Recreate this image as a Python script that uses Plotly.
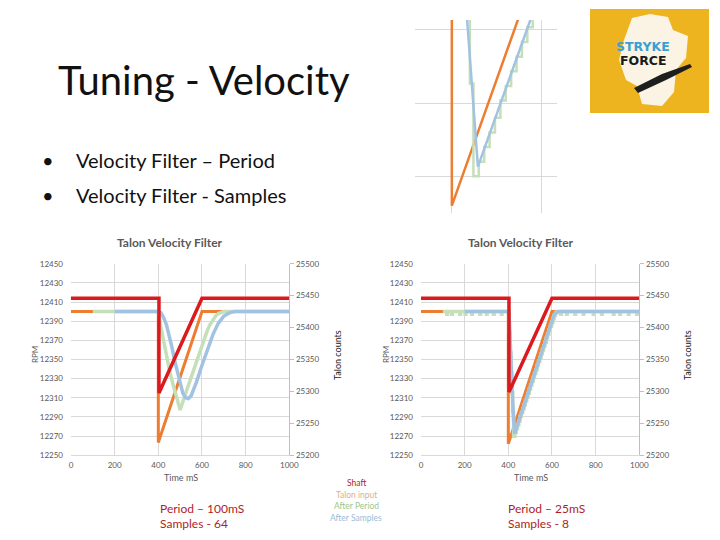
import plotly.graph_objects as go

# ---- data ----
# left chart: Period 100 ms, Samples 64
shaft_t_a = [0, 403, 403, 600, 1000]
shaft_rpm_a = [12414, 12414, 12315, 12414, 12414]

input_t_a = [0, 400, 400, 600, 1000]
input_cnt_a = [25425, 25425, 25220, 25425, 25425]

period_t_a = [100, 400, 412.5, 425, 437.5, 450, 462.5, 475, 487.5, 500, 525, 550, 575,
              600, 625, 637.5, 650, 662.5, 675, 687.5, 700, 1000]
period_cnt_a = [25425, 25425, 25400, 25377, 25355, 25335, 25317, 25300, 25285, 25271, 25297,
                25322, 25348, 25374, 25396, 25405, 25412, 25418, 25422, 25424, 25425, 25425]

samples_t_a = [200, 400, 412.5, 425, 437.5, 450, 462.5, 475, 487.5, 500, 512.5, 525, 537.5,
               550, 575, 600, 625, 650, 675, 700, 725, 750, 1000]
samples_cnt_a = [25425, 25425, 25423, 25415, 25404, 25388, 25369, 25348, 25329, 25311, 25297,
                 25290, 25289, 25293, 25315, 25341, 25366, 25389, 25407, 25418, 25423, 25425, 25425]

# right chart: Period 25 ms, Samples 8
shaft_t_b = [0, 403, 403, 600, 1000]
shaft_rpm_b = [12414, 12414, 12316, 12414, 12414]

input_t_b = [0, 400, 400, 600, 1000]
input_cnt_b = [25425, 25425, 25218, 25425, 25425]

# stepped (hv) signal with the small dropouts on the flat parts
period_t_b = [100, 118, 121, 140, 143, 178, 181, 202, 205, 232, 235, 270, 273, 300, 303,
              332, 335, 368, 371, 404, 408, 412, 416, 420, 424, 430, 436, 442, 448, 454,
              460, 466, 472, 478, 484, 490, 496, 502, 508, 514, 520, 526, 532, 538, 544,
              550, 556, 562, 568, 574, 580, 586, 592, 598, 604, 610, 616, 622, 640, 643,
              667, 670, 705, 708, 743, 746, 789, 792, 827, 830, 881, 884, 911, 914, 950,
              953, 988, 991, 1000]
period_cnt_b = [25425, 25421, 25425, 25421, 25425, 25421, 25425, 25421, 25425, 25421, 25425,
                25421, 25425, 25421, 25425, 25421, 25425, 25421, 25425, 25392, 25360, 25329,
                25298, 25268, 25230, 25236, 25242, 25248, 25254, 25261, 25267, 25273, 25279,
                25285, 25291, 25297, 25304, 25310, 25316, 25322, 25328, 25334, 25341, 25347,
                25353, 25359, 25365, 25371, 25377, 25384, 25390, 25396, 25402, 25408, 25414,
                25419, 25423, 25425, 25421, 25425, 25421, 25425, 25421, 25425, 25421, 25425,
                25421, 25425, 25421, 25425, 25421, 25425, 25421, 25425, 25421, 25425, 25421,
                25425, 25425]

samples_t_b = [200, 400, 405, 410, 414, 417, 423, 429, 500, 560, 600, 610, 620, 630, 1000]
samples_cnt_b = [25425, 25425, 25410, 25372, 25330, 25294, 25262, 25234, 25307, 25369,
                 25410, 25420, 25424, 25425, 25425]

x_ticks = [0, 200, 400, 600, 800, 1000]
series_names = ["Shaft", "Talon input", "After Period", "After Samples"]

RED = "#DA1A1E"
ORANGE = "#ED7D31"
GREEN = "#C5DFB8"
BLUE = "#A2C2E2"
GRID = "#D9D9D9"
TXT = "#595959"
FONT = "Lato"

# the page body has an 8px margin, so screen pixels are shifted back by 8
OFF = 8


def X(p):
    return (p - OFF) / 720


def Y(p):
    return 1 - (p - OFF) / 540


fig = go.Figure()

# left chart
fig.add_trace(go.Scatter(x=input_t_a, y=input_cnt_a, xaxis="x", yaxis="y",
                         line=dict(color=ORANGE, width=3)))
fig.add_trace(go.Scatter(x=period_t_a, y=period_cnt_a, xaxis="x", yaxis="y",
                         line=dict(color=GREEN, width=3.5)))
fig.add_trace(go.Scatter(x=samples_t_a, y=samples_cnt_a, xaxis="x", yaxis="y",
                         line=dict(color=BLUE, width=3.5)))
fig.add_trace(go.Scatter(x=shaft_t_a, y=shaft_rpm_a, xaxis="x", yaxis="y2",
                         line=dict(color=RED, width=3.5)))

# right chart
fig.add_trace(go.Scatter(x=input_t_b, y=input_cnt_b, xaxis="x2", yaxis="y3",
                         line=dict(color=ORANGE, width=3)))
fig.add_trace(go.Scatter(x=period_t_b, y=period_cnt_b, xaxis="x2", yaxis="y3",
                         line=dict(color=GREEN, width=3.5, shape="hv")))
fig.add_trace(go.Scatter(x=samples_t_b, y=samples_cnt_b, xaxis="x2", yaxis="y3",
                         line=dict(color=BLUE, width=3.5)))
fig.add_trace(go.Scatter(x=shaft_t_b, y=shaft_rpm_b, xaxis="x2", yaxis="y4",
                         line=dict(color=RED, width=3.5)))

# zoomed inset (top) of the right chart dip
fig.add_trace(go.Scatter(x=input_t_b, y=input_cnt_b, xaxis="x3", yaxis="y5",
                         line=dict(color=ORANGE, width=2.5)))
fig.add_trace(go.Scatter(x=period_t_b, y=period_cnt_b, xaxis="x3", yaxis="y5",
                         line=dict(color=GREEN, width=2.5, shape="hv")))
fig.add_trace(go.Scatter(x=samples_t_b, y=samples_cnt_b, xaxis="x3", yaxis="y5",
                         line=dict(color=BLUE, width=2.5)))

fig.update_traces(mode="lines", showlegend=False, hoverinfo="skip")

tickfont = dict(family=FONT, size=8, color=TXT)


def xa(x0, x1):
    return dict(domain=[X(x0), X(x1)], range=[0, 1000], tickvals=x_ticks, showgrid=True,
                gridcolor=GRID, zeroline=False, showline=True, linecolor=GRID,
                tickfont=tickfont, ticks="", automargin=False, ticklabelstandoff=2)


def cnt_axis(anchor):
    return dict(domain=[Y(455.3), Y(263.7)], range=[25200, 25500], dtick=50, tick0=25200,
                side="right", anchor=anchor, showgrid=False, zeroline=False, showline=True,
                linecolor="#BFBFBF", ticks="outside", ticklen=4, tickcolor="#BFBFBF",
                tickfont=tickfont, tickformat="d", automargin=False)


def rpm_axis(over, anchor):
    return dict(range=[12250, 12450], dtick=20, tick0=12250, overlaying=over, side="left",
                anchor=anchor, showgrid=True, gridcolor=GRID, zeroline=False, showline=False,
                ticks="", tickfont=tickfont, tickformat="d", ticklabelstandoff=7,
                automargin=False)


fig.update_layout(
    width=720, height=540, margin=dict(l=0, r=0, t=0, b=0, pad=0, autoexpand=False),
    paper_bgcolor="white", plot_bgcolor="white", showlegend=False,
    xaxis=dict(xa(71, 289.3), anchor="y"),
    yaxis=cnt_axis("x"),
    yaxis2=rpm_axis("y", "x"),
    xaxis2=dict(xa(421, 639.3), anchor="y3"),
    yaxis3=cnt_axis("x2"),
    yaxis4=rpm_axis("y3", "x2"),
    xaxis3=dict(domain=[X(415), X(557)], range=[359, 517], tickvals=[400, 500],
                showgrid=True, gridcolor=GRID, showticklabels=False, zeroline=False,
                anchor="y5", automargin=False),
    yaxis5=dict(domain=[Y(213), Y(20)], range=[25215, 25294], tickvals=[25230, 25260, 25290],
                showgrid=True, gridcolor=GRID, showticklabels=False, zeroline=False,
                anchor="x3", automargin=False),
)

ann = []


def text(x, y, s, size, color, xanchor="center", angle=0, bold=False, family=FONT):
    if bold:
        s = "<b>" + s + "</b>"
    ann.append(dict(x=X(x), y=Y(y), xref="paper", yref="paper", text=s, showarrow=False,
                    xanchor=xanchor, yanchor="middle", textangle=angle, borderpad=0,
                    font=dict(family=family, size=size, color=color)))


# slide text
text(57, 80, "Tuning - Velocity", 40, "#111111", xanchor="left")
text(41, 160, "•", 20, "#111111", xanchor="left")
text(75, 160, "Velocity Filter – Period", 20, "#111111", xanchor="left")
text(41, 195, "•", 20, "#111111", xanchor="left")
text(75, 195, "Velocity Filter - Samples", 20, "#111111", xanchor="left")

# chart titles and axis titles
for cx, lx, rx in [(170, 35, 337), (521, 386, 687)]:
    text(cx, 242, "Talon Velocity Filter", 12, TXT, bold=True)
    text(lx, 355, "RPM", 8, TXT, angle=-90)
    text(rx, 355, "Talon counts", 9, "#222222", angle=-90)
text(163, 477, "Time mS", 9, TXT, xanchor="left")
text(513, 477, "Time mS", 9, TXT, xanchor="left")

# custom legend
legend_cols = ["#B01E1E", "#DDB08A", "#9CC68A", "#9BBBD4"]
for i, (nm, col) in enumerate(zip(series_names, legend_cols)):
    text(356, 483 + i * 11.7, nm, 8.5, col)

# settings notes
text(159, 508, "Period – 100mS", 12, "#B01E1E", xanchor="left")
text(159, 523, "Samples - 64", 12, "#B01E1E", xanchor="left")
text(507, 508, "Period – 25mS", 12, "#B01E1E", xanchor="left")
text(507, 523, "Samples - 8", 12, "#B01E1E", xanchor="left")


def path(pts):
    return "M " + " L ".join(f"{X(a)},{Y(b)}" for a, b in pts) + " Z"


shapes = [
    dict(type="rect", xref="paper", yref="paper", x0=X(590), x1=X(709), y0=Y(113), y1=Y(9),
         fillcolor="#EEB420", line=dict(width=0), layer="below"),
    dict(type="path", xref="paper", yref="paper", layer="below",
         path=path([(632, 18), (650, 14), (668, 17), (673, 30), (688, 36), (686, 58), (676, 70),
                    (674, 92), (662, 106), (642, 104), (637, 86), (626, 80), (619, 60),
                    (624, 40)]),
         fillcolor="#FBF4E4", line=dict(width=0)),
    dict(type="path", xref="paper", yref="paper", layer="above",
         path=path([(634, 88), (662, 74), (690, 64), (692, 67), (666, 80), (638, 93)]),
         fillcolor="#1E1E1E", line=dict(width=0)),
]
fig.update_layout(shapes=shapes)

text(643, 46, "STRYKE", 12.5, "#3A9FD2", bold=True, family="DejaVu Sans")
text(643, 60, "FORCE", 12.5, "#1A1A1A", bold=True, family="DejaVu Sans")

fig.update_layout(annotations=ann)

fig.write_html("out.html")
